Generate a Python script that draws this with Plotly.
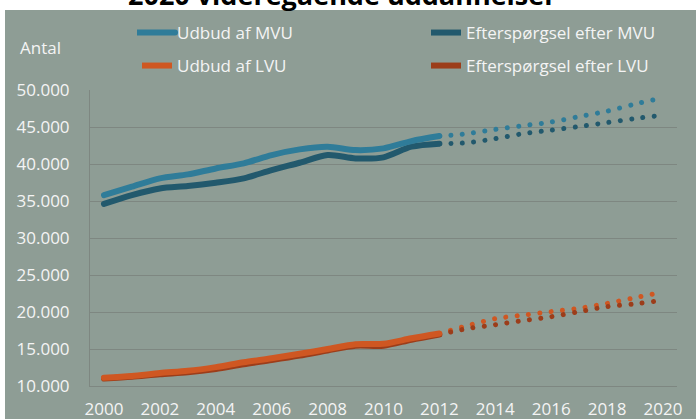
import plotly.graph_objects as go

years_hist = list(range(2000, 2013))
years_proj = list(range(2012, 2021))
tick_years = list(range(2000, 2021, 2))
y_ticks = [10000, 15000, 20000, 25000, 30000, 35000, 40000, 45000, 50000]
y_tick_labels = ["10.000", "15.000", "20.000", "25.000", "30.000", "35.000", "40.000", "45.000", "50.000"]

udbud_mvu = [35800, 36930, 38060, 38600, 39400, 40090, 41210, 41980, 42340, 41880, 42110, 43100, 43775]
eft_mvu = [34600, 35800, 36700, 37020, 37470, 38060, 39180, 40170, 41210, 40760, 40900, 42340, 42750]
udbud_lvu = [11100, 11350, 11750, 12050, 12550, 13200, 13750, 14350, 15000, 15650, 15700, 16450, 17100]
eft_lvu = [11000, 11250, 11600, 11850, 12300, 12950, 13500, 14100, 14800, 15450, 15450, 16250, 16950]

udbud_mvu_proj = [43775, 44100, 44680, 45180, 45670, 46410, 47140, 48100, 48950]
eft_mvu_proj = [42750, 42880, 43420, 44110, 44570, 45060, 45600, 46140, 46610]
udbud_lvu_proj = [17100, 18150, 19100, 19580, 20050, 20500, 21160, 21930, 22700]
eft_lvu_proj = [16950, 17760, 18280, 18850, 19360, 20050, 20720, 21110, 21580]

names = ["Udbud af MVU", "Efterspørgsel efter MVU", "Udbud af LVU", "Efterspørgsel efter LVU"]
colors = ["#2F7C99", "#22596D", "#CF5722", "#9C3D1A"]
BG = "#8E9D95"
GRID = "#7E8781"
TXT = "#F4F4F4"
FONT = "Open Sans"

W, H = 696, 419
ML, MR, MT, MB = 90, 19, 90, 33
PW, PH = W - ML - MR, H - MT - MB


def px_x(px):
    return (px - ML) / PW


def px_y(py):
    return 1 + (MT - py) / PH


fig = go.Figure()

hist = [udbud_mvu, eft_mvu, udbud_lvu, eft_lvu]
proj = [udbud_mvu_proj, eft_mvu_proj, udbud_lvu_proj, eft_lvu_proj]
legend_ids = ["legend", "legend2", "legend3", "legend4"]
legend_pos = [(137, 33), (426, 33), (137, 66), (426, 66)]

for i in range(4):
    fig.add_trace(go.Scatter(
        x=years_proj, y=proj[i], mode="lines", showlegend=False,
        line=dict(color=colors[i], width=5, dash="4px,7.4px", shape="spline", smoothing=0.8),
        hoverinfo="skip"))
for i in [1, 0, 3, 2]:
    fig.add_trace(go.Scatter(
        x=years_hist, y=hist[i], mode="lines", name=names[i], legend=legend_ids[i],
        line=dict(color=colors[i], width=6, shape="spline", smoothing=0.8)))

legend_layout = {}
for i, lid in enumerate(legend_ids):
    lx, ly = legend_pos[i]
    legend_layout[lid] = dict(
        orientation="h", x=px_x(lx), xanchor="left", y=px_y(ly), yanchor="middle",
        bgcolor="rgba(0,0,0,0)", borderwidth=0,
        font=dict(family=FONT, size=17, color=TXT))

fig.update_layout(
    width=W, height=H,
    margin=dict(l=ML, r=MR, t=MT, b=MB, autoexpand=False),
    paper_bgcolor="white",
    plot_bgcolor=BG,
    font=dict(family=FONT, size=17, color=TXT),
    showlegend=True,
    xaxis=dict(range=[1999.5, 2020.5], tickmode="array", tickvals=tick_years,
               ticktext=[str(y) for y in tick_years], showgrid=False, zeroline=False,
               showline=True, linecolor=GRID, linewidth=1, ticks="",
               ticklabelstandoff=8, tickfont=dict(family=FONT, size=17, color=TXT)),
    yaxis=dict(range=[10000, 50000], tickmode="array", tickvals=y_ticks, ticktext=y_tick_labels,
               showgrid=True, gridcolor=GRID, gridwidth=1, zeroline=False,
               showline=True, linecolor=GRID, linewidth=1, ticks="",
               ticklabelstandoff=16, tickfont=dict(family=FONT, size=17, color=TXT)),
    shapes=[dict(type="rect", xref="paper", yref="paper", layer="below",
                 x0=px_x(5), x1=px_x(W + 10), y0=px_y(H + 10), y1=px_y(10),
                 fillcolor=BG, line=dict(width=0))],
    annotations=[
        dict(text="Antal", xref="paper", yref="paper", x=px_x(18), xanchor="left",
             y=px_y(47), yanchor="middle", showarrow=False,
             font=dict(family=FONT, size=17, color=TXT)),
        dict(text="<b>2020 videregående uddannelser</b>", xref="paper", yref="paper",
             x=px_x(342), xanchor="center", y=px_y(15), yanchor="bottom",
             showarrow=False, font=dict(family=FONT, size=27, color="black")),
    ],
    **legend_layout,
)

post_js = """
document.body.style.margin = '0';
document.body.style.padding = '0';
var gd = document.getElementById('{plot_id}');
function fixCaps() {
  gd.querySelectorAll('.scatterlayer path.js-line').forEach(function (p) {
    p.style.strokeLinecap = 'round';
    var da = p.style.strokeDasharray;
    if (da && da !== 'none') { p.style.strokeDasharray = '0.01px, 11.4px'; }
  });
  gd.querySelectorAll('.legend .legendlines path').forEach(function (p) {
    p.style.strokeLinecap = 'round';
    p.setAttribute('d', 'M-1,0h39');
  });
}
fixCaps();
if (gd.on) { gd.on('plotly_afterplot', fixCaps); }
setTimeout(fixCaps, 50);
"""

fig.write_html("out.html", post_script=post_js, config={"displayModeBar": False})
